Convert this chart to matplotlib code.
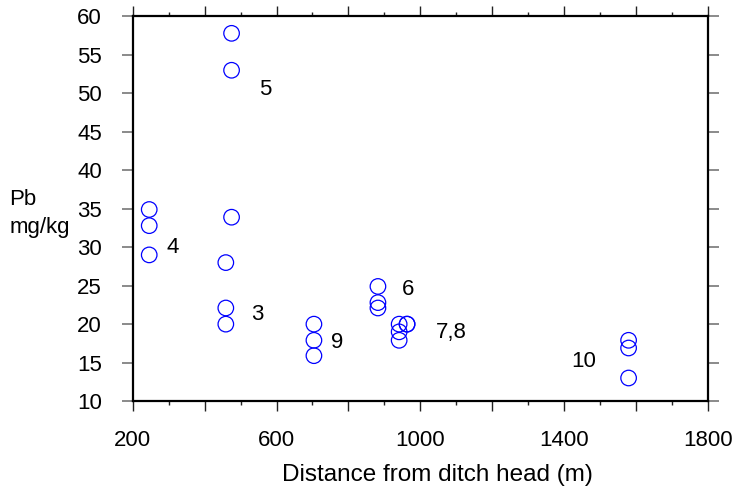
import matplotlib
matplotlib.use("Agg")
import matplotlib.pyplot as plt
from matplotlib.ticker import MultipleLocator, FixedLocator, FixedFormatter

plt.rcParams['font.family'] = ['Liberation Sans', 'DejaVu Sans']

# data
distance = [246, 246, 246, 475, 475, 475, 459, 459, 459,
            704, 704, 704, 882, 882, 882, 941, 941, 941, 963, 963,
            1579, 1579, 1579]
pb = [34.9, 32.8, 29.0, 57.8, 53.0, 33.9, 28.0, 22.1, 20.0,
      20.0, 17.9, 15.9, 24.9, 22.8, 22.1, 20.0, 19.0, 17.9, 20.0, 20.0,
      17.9, 16.9, 13.0]
site_labels = ["5", "4", "3", "9", "6", "7,8", "10"]
site_label_x = [570, 311, 546, 768, 967, 1086, 1455]
site_label_y = [50.5, 30.0, 21.2, 17.65, 24.5, 18.95, 15.1]
x_major = [200, 400, 600, 800, 1000, 1200, 1400, 1600, 1800]
x_major_labels = ["200", "", "600", "", "1000", "", "1400", "", "1800"]

fig = plt.figure(figsize=(7.33, 4.97), dpi=100)
ax = fig.add_axes([0.181, 0.193, 0.785, 0.774])

ax.scatter(distance, pb, s=125, facecolors='none', edgecolors='#0000ff', linewidths=0.9, zorder=3)

for t, x, y in zip(site_labels, site_label_x, site_label_y):
    ax.text(x, y, t, fontsize=16, ha='center', va='center', color='black')

ax.set_xlim(200, 1800)
ax.set_ylim(10, 60)
ax.xaxis.set_major_locator(FixedLocator(x_major))
ax.xaxis.set_major_formatter(FixedFormatter(x_major_labels))
ax.xaxis.set_minor_locator(MultipleLocator(100))
ax.yaxis.set_major_locator(MultipleLocator(5))

for s in ax.spines.values():
    s.set_linewidth(1.6)

ax.tick_params(axis='x', which='major', direction='out', length=7.5, width=1, pad=13.5,
               labelsize=16, top=True, color='#222222')
ax.tick_params(axis='x', which='minor', direction='out', length=3, width=1, top=True, color='#222222')
ax.tick_params(axis='y', which='major', direction='out', length=8, width=1.2, pad=14,
               labelsize=16, right=True, color='#777777')

ax.set_xlabel("Distance from ditch head (m)", fontsize=17.5)
ax.xaxis.set_label_coords(0.529, -0.164)
fig.text(0.013, 0.571, "Pb\nmg/kg", fontsize=16, ha='left', va='center', linespacing=1.45)

fig.savefig("out.png", dpi=100)
